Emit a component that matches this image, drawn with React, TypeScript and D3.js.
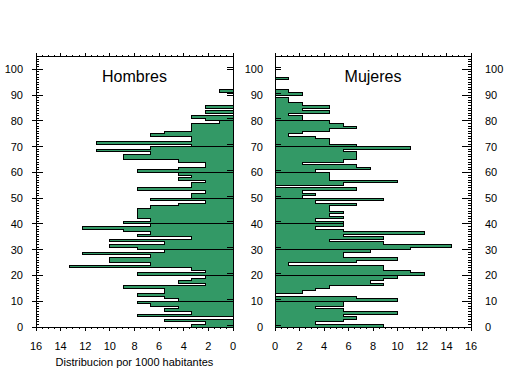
import React from "react";
import * as d3 from "d3";

// ---- data (per 1000 inhabitants, by single year of age 0..99) ----
const hombres: number[] = [
  3.33, 2.22, 5.56, 0, 7.78, 3.33, 5.56, 4.44, 6.67, 7.78,
  4.44, 5.56, 7.78, 5.56, 5.56, 8.89, 2.22, 4.44, 3.33, 2.22,
  7.78, 2.22, 3.33, 13.3, 6.67, 10, 10, 6.67, 12.2, 5.56,
  7.78, 10, 5.56, 10, 3.33, 7.78, 6.67, 8.89, 12.2, 6.67,
  8.89, 6.67, 7.78, 7.78, 7.78, 7.78, 6.67, 4.44, 2.22, 6.67,
  3.33, 3.33, 2.22, 7.78, 3.33, 3.33, 2.22, 4.44, 3.33, 4.44,
  7.78, 4.44, 2.22, 2.22, 4.44, 8.89, 8.89, 6.67, 11.1, 6.67,
  3.33, 11.1, 3.33, 3.33, 6.67, 5.56, 3.33, 3.33, 3.33, 1.11,
  2.22, 3.33, 0, 2.22, 0, 2.22, 0, 0, 0, 0,
  0, 1.11, 0, 0, 0, 0, 0, 0, 0, 0,
];

const mujeres: number[] = [
  8.89, 3.33, 5.56, 6.67, 5.56, 10, 5.56, 3.33, 5.56, 5.56,
  10, 6.67, 0, 2.22, 3.33, 4.44, 8.89, 7.78, 8.89, 10,
  12.2, 11.1, 8.89, 8.89, 1.11, 6.67, 10, 5.56, 5.56, 7.78,
  11.1, 14.4, 8.89, 4.44, 8.89, 5.56, 12.2, 5.56, 3.33, 5.56,
  5.56, 3.33, 5.56, 4.44, 5.56, 4.44, 4.44, 6.67, 3.33, 8.89,
  2.22, 3.33, 2.22, 6.67, 0, 5.56, 10, 4.44, 4.44, 4.44,
  3.33, 7.78, 6.67, 2.22, 5.56, 6.67, 6.67, 6.67, 5.56, 11.1,
  6.67, 4.44, 4.44, 3.33, 1.11, 2.22, 4.44, 6.67, 5.56, 4.44,
  2.22, 2.22, 1.11, 4.44, 2.22, 4.44, 2.22, 1.11, 1.11, 0,
  2.22, 1.11, 0, 0, 0, 0, 1.11, 0, 0, 0,
];

const ageTicks: number[] = [0, 10, 20, 30, 40, 50, 60, 70, 80, 90, 100];
const valueTicks: number[] = [0, 2, 4, 6, 8, 10, 12, 14, 16];
const decades: number[] = [0, 10, 20, 30, 40, 50, 60, 70, 80, 90];
const titleLeft = "Hombres";
const titleRight = "Mujeres";
const xAxisTitle = "Distribucion por 1000 habitantes";

const GREEN = "#339966";
const FONT = "'Liberation Sans', Arial, sans-serif";

const W = 509;
const H = 376;
const TOP = 56.5;
const BOTTOM = 327;

const y = d3.scaleLinear().domain([0, 105]).range([BOTTOM, TOP]);
const xL = d3.scaleLinear().domain([0, 16]).range([233, 36]);
const xR = d3.scaleLinear().domain([0, 16]).range([275, 471]);

type P = [number, number];

function decadePath(values: number[], d: number, xs: d3.ScaleLinear<number, number>): string {
  const pts: P[] = [[0, d]];
  for (let a = d; a < d + 10; a++) pts.push([values[a], a]);
  pts.push([values[d + 9], d + 10]);
  pts.push([0, d + 10]);
  const line = d3
    .line<P>()
    .x((p) => xs(p[0]))
    .y((p) => y(p[1]))
    .curve(d3.curveStepBefore);
  return (line(pts) || "") + "Z";
}

const minorAges = d3.range(0, 106, 1);
const halfVals = d3.range(0, 16.01, 0.5);

function Panel({ values, xs, side, title }: { values: number[]; xs: d3.ScaleLinear<number, number>; side: "L" | "R"; title: string }) {
  const x0 = xs(0);
  const x16 = xs(16);
  const left = Math.min(x0, x16);
  const right = Math.max(x0, x16);
  const outerX = side === "L" ? left : right; // far axis with minor ticks
  const innerX = side === "L" ? right : left; // axis next to the centre labels
  const inDir = side === "L" ? 1 : -1; // direction into plot from outer axis
  return (
    <g shapeRendering="crispEdges">
      {decades.map((d) => (
        <path key={d} d={decadePath(values, d, xs)} fill={GREEN} stroke="#000" strokeWidth={1} />
      ))}
      {/* frame */}
      <line x1={left} x2={right} y1={TOP} y2={TOP} stroke="#000" />
      <line x1={left} x2={right} y1={BOTTOM} y2={BOTTOM} stroke="#000" />
      <line x1={left} x2={left} y1={TOP} y2={BOTTOM} stroke="#000" />
      <line x1={right} x2={right} y1={TOP} y2={BOTTOM} stroke="#000" />
      {/* outer axis minor ticks */}
      {minorAges.map((a) => (
        <line key={"m" + a} x1={outerX} x2={outerX + inDir * (a % 10 === 0 ? (side === "L" ? 7 : 9) : 3)} y1={y(a)} y2={y(a)} stroke="#000" />
      ))}
      {side === "L" &&
        ageTicks.map((a) => (
          <line key={"o" + a} x1={outerX} x2={outerX - inDir * 4} y1={y(a)} y2={y(a)} stroke="#000" />
        ))}
      {/* inner axis double ticks */}
      {ageTicks.map((a) => (
        <g key={"i" + a}>
          <line x1={innerX} x2={innerX + inDir * -6} y1={y(a)} y2={y(a)} stroke="#000" />
          <line x1={innerX} x2={innerX + inDir * -6} y1={y(a) - 2} y2={y(a) - 2} stroke="#000" />
        </g>
      ))}
      {/* bottom and top ticks */}
      {halfVals.map((v) => {
        const major = Math.abs(v % 2) < 1e-9;
        return (
          <g key={"b" + v}>
            <line x1={xs(v)} x2={xs(v)} y1={BOTTOM} y2={BOTTOM + (major ? 4 : 2)} stroke="#000" />
            <line x1={xs(v)} x2={xs(v)} y1={TOP} y2={TOP - (major ? 4 : 2)} stroke="#000" />
          </g>
        );
      })}
      {valueTicks.map((v) => (
        <text key={"t" + v} x={xs(v)} y={350} fontSize={11} fontFamily={FONT} textAnchor="middle">
          {v}
        </text>
      ))}
      <text x={(left + right) / 2} y={82} fontSize={16} fontFamily={FONT} textAnchor="middle">
        {title}
      </text>
    </g>
  );
}

export default function App() {
  return (
    <svg width={W} height={H} style={{ position: "absolute", left: 0, top: 0, background: "#fff" }}>
      <rect width={W} height={H} fill="#fff" />
      <Panel values={hombres} xs={xL} side="L" title={titleLeft} />
      <Panel values={mujeres} xs={xR} side="R" title={titleRight} />
      {ageTicks.map((a) => (
        <g key={"yl" + a} fontSize={11} fontFamily={FONT}>
          <text x={23} y={y(a) + 4} textAnchor="end">{a}</text>
          <text x={263} y={y(a) + 4} textAnchor="end">{a}</text>
          <text x={485} y={y(a) + 4} textAnchor="start">{a}</text>
        </g>
      ))}
      <text x={134.5} y={366} fontSize={11} fontFamily={FONT} textAnchor="middle">
        {xAxisTitle}
      </text>
    </svg>
  );
}
